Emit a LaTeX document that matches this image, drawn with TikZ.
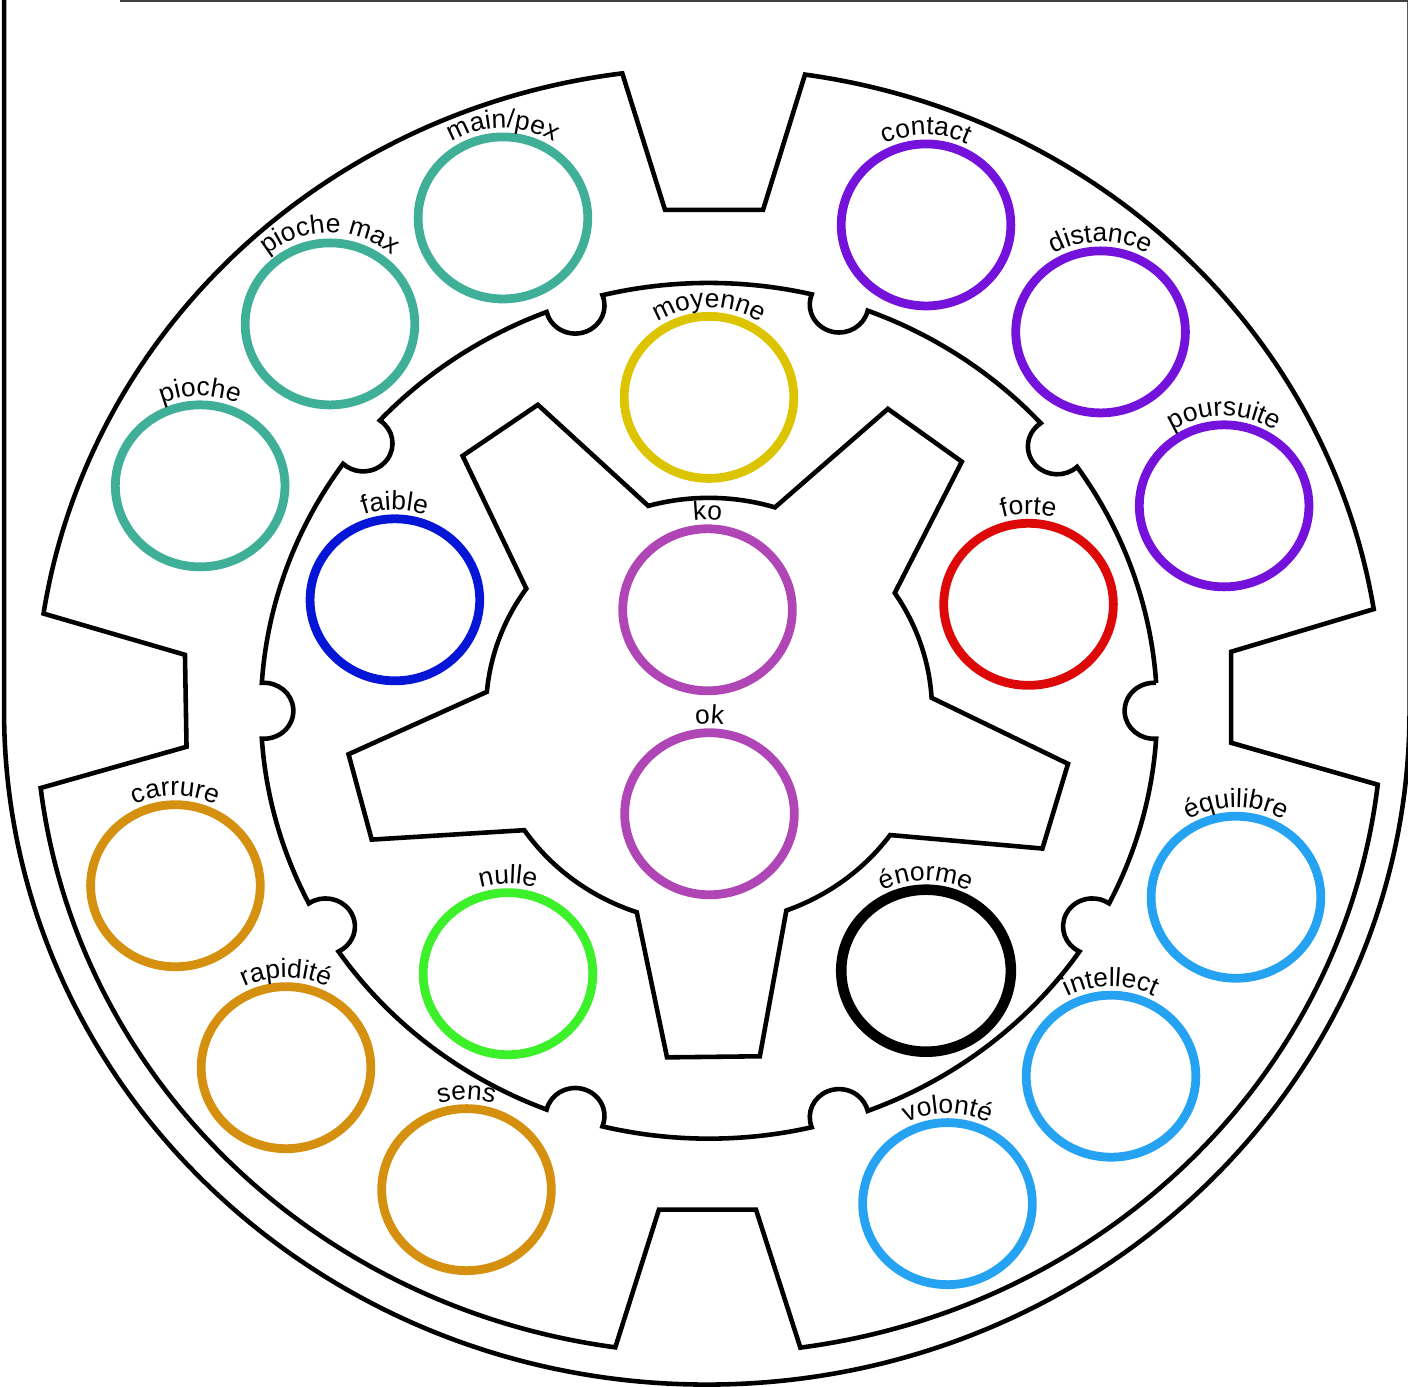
\documentclass[tikz,border=0pt]{standalone}
\usepackage{fontspec}
\setmainfont{Liberation Sans}
\usepackage{xcolor}
\usetikzlibrary{shapes.geometric, decorations.text}
\newcommand{\lblfont}{\fontsize{7.5}{9}\selectfont}
\definecolor{tealring}{HTML}{3FAF98}
\definecolor{violetring}{HTML}{7412DC}
\definecolor{goldring}{HTML}{DCC400}
\definecolor{mauvering}{HTML}{B046B6}
\definecolor{bluering}{HTML}{0616D6}
\definecolor{redring}{HTML}{DD0808}
\definecolor{ochrering}{HTML}{D4900E}
\definecolor{greenring}{HTML}{3CF02A}
\definecolor{skyring}{HTML}{25A3F2}
\tikzset{
  gearline/.style={line width=1.3pt, line join=miter},
  token/.style={ellipse, draw, line width=2.5pt, inner sep=0pt, minimum width=1.696cm, minimum height=1.62cm},
  arclabel/.style={decorate, decoration={text along path, text={|\lblfont|#1}, text align=center}}
}
\begin{document}
\begin{tikzpicture}[x=0.01047cm, y=0.01cm]
\useasboundingbox (-677.17,-676) rectangle (667.62,711);

% Frame
\draw[gearline] (-673.3,730) -- (-673.3,0) arc[start angle=180, end angle=360, x radius=671.2, y radius=674] -- (669.1,730);
\draw[gearline, black!75] (-562.6,711) -- (700,711);

% Outer gear ring
\draw[gearline] (9.1:643) arc[start angle=9.1, end angle=81.8, radius=643]
  -- (51.6,501) -- (-42,501) -- (97.4:643)
  arc[start angle=97.4, end angle=171.3, radius=643]
  -- (-500.5,56) -- (-499,-36) -- (186.9:643)
  arc[start angle=186.9, end angle=262, radius=643]
  -- (-47.8,-499) -- (44.9,-499) -- (277.8:643)
  arc[start angle=277.8, end angle=353.4, radius=643]
  -- (498.6,-32) -- (498.6,59) -- cycle;

% Middle ring with ten notches
\draw[gearline] (3.74:428)
  \foreach \a/\b in {0/38.5, 38.5/73, 73/107.5, 107.5/141, 141/180, 180/210.5, 210.5/252.5, 252.5/287, 287/329.5, 329.5/360}{
    arc[start angle=\a+3.74, end angle=\b-3.74, radius=428]
    arc[start angle=\b-85.7, end angle=\b-274.3, radius=28]
  } -- cycle;

% Inner five-armed star
\draw[gearline] (33.6:213) -- (45.9:347) -- (60.5:347) -- (72.8:213)
  arc[start angle=72.8, end angle=105.8, radius=213]
  -- (118.1:347) -- (132.7:347) -- (145:213)
  arc[start angle=145, end angle=174.9, radius=213]
  -- (187.2:347) -- (201.8:347) -- (214.1:213)
  arc[start angle=214.1, end angle=251.1, radius=213]
  -- (263.4:349) -- (278:349) -- (290.3:213)
  arc[start angle=290.3, end angle=324.3, radius=213]
  -- (336.6:347) -- (351.2:347) -- (363.5:213)
  arc[start angle=363.5, end angle=393.6, radius=213]
  -- cycle;

% Outer ring tokens
\node[token, draw=tealring] (mainpex) at (-196.8,493) {};
\node[token, draw=tealring] (piochemax) at (-362,387) {};
\node[token, draw=tealring] (pioche) at (-486,225) {};
\node[token, draw=violetring] (contact) at (207.3,486) {};
\node[token, draw=violetring] (distance) at (374,379) {};
\node[token, draw=violetring] (poursuite) at (492,205) {};
\node[token, draw=ochrering] (carrure) at (-509.6,-175) {};
\node[token, draw=ochrering] (rapidite) at (-404,-357) {};
\node[token, draw=ochrering] (sens) at (-231.6,-479) {};
\node[token, draw=skyring] (equilibre) at (503.3,-186.5) {};
\node[token, draw=skyring] (intellect) at (384,-365.5) {};
\node[token, draw=skyring] (volonte) at (227.8,-493) {};

% Middle ring tokens
\node[token, draw=goldring] (moyenne) at (0,313.5) {};
\node[token, draw=bluering] (faible) at (-300,111) {};
\node[token, draw=redring] (forte) at (305.2,106.5) {};
\node[token, draw=greenring] (nulle) at (-192,-263) {};
\node[token, draw=black, line width=3pt] (enorme) at (207.3,-260) {};

% Centre tokens
\node[token, draw=mauvering] (ko) at (-1.4,101) {};
\node[token, draw=mauvering] (ok) at (0.5,-103) {};

% Curved labels
\path[arclabel={main/pex}] ([shift={(170:90)}]mainpex.center) arc[start angle=170, end angle=10, radius=90];
\path[arclabel={pioche max}] ([shift={(170:91)}]piochemax.center) arc[start angle=170, end angle=10, radius=91];
\path[arclabel={pioche}] ([shift={(170:90)}]pioche.center) arc[start angle=170, end angle=10, radius=90];
\path[arclabel={contact}] ([shift={(170:90)}]contact.center) arc[start angle=170, end angle=10, radius=90];
\path[arclabel={distance}] ([shift={(170:90)}]distance.center) arc[start angle=170, end angle=10, radius=90];
\path[arclabel={poursuite}] ([shift={(170:90)}]poursuite.center) arc[start angle=170, end angle=10, radius=90];
\path[arclabel={carrure}] ([shift={(170:90)}]carrure.center) arc[start angle=170, end angle=10, radius=90];
\path[arclabel={rapidité}] ([shift={(170:90)}]rapidite.center) arc[start angle=170, end angle=10, radius=90];
\path[arclabel={sens}] ([shift={(170:90)}]sens.center) arc[start angle=170, end angle=10, radius=90];
\path[arclabel={équilibre}] ([shift={(170:90)}]equilibre.center) arc[start angle=170, end angle=10, radius=90];
\path[arclabel={intellect}] ([shift={(170:90)}]intellect.center) arc[start angle=170, end angle=10, radius=90];
\path[arclabel={volonté}] ([shift={(170:90)}]volonte.center) arc[start angle=170, end angle=10, radius=90];
\path[arclabel={moyenne}] ([shift={(170:90)}]moyenne.center) arc[start angle=170, end angle=10, radius=90];
\path[arclabel={faible}] ([shift={(170:90)}]faible.center) arc[start angle=170, end angle=10, radius=90];
\path[arclabel={forte}] ([shift={(170:90)}]forte.center) arc[start angle=170, end angle=10, radius=90];
\path[arclabel={nulle}] ([shift={(170:90)}]nulle.center) arc[start angle=170, end angle=10, radius=90];
\path[arclabel={énorme}] ([shift={(170:90)}]enorme.center) arc[start angle=170, end angle=10, radius=90];
\path[arclabel={ko}] ([shift={(170:90)}]ko.center) arc[start angle=170, end angle=10, radius=90];
\path[arclabel={ok}] ([shift={(170:90)}]ok.center) arc[start angle=170, end angle=10, radius=90];
\end{tikzpicture}
\end{document}
